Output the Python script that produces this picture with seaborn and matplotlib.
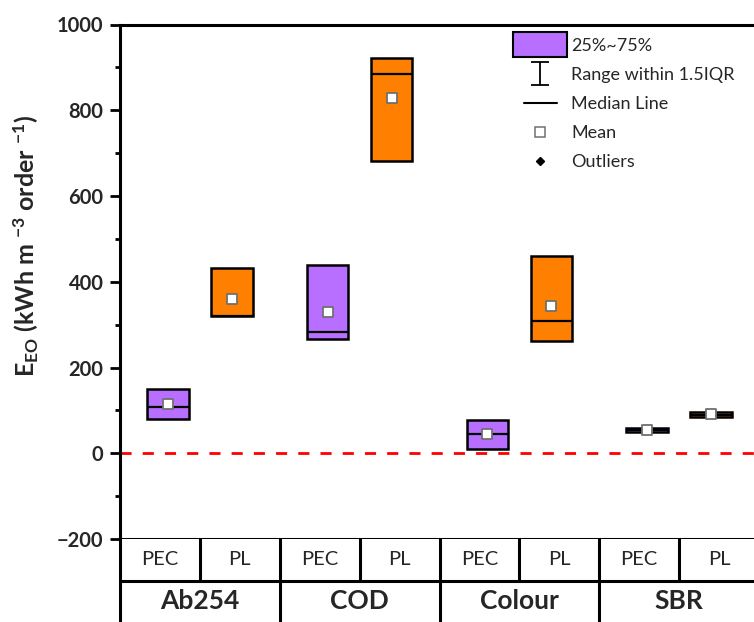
import numpy as np
import matplotlib
matplotlib.use("Agg")
import matplotlib.pyplot as plt
import seaborn as sns
from matplotlib.lines import Line2D
from matplotlib.patches import Patch, Rectangle
from matplotlib.legend_handler import HandlerPatch, HandlerErrorbar
from matplotlib.ticker import MultipleLocator

# data (kWh m-3 order-1)
groups = ["Ab254", "COD", "Colour", "SBR"]
methods = ["PEC", "PL"]
q1 = [79, 319, 266, 681, 11, 262, 50, 84]
median = [108, 319, 282, 884, 44, 308, 54, 90]
q3 = [149, 432, 438, 922, 77, 460, 58, 97]
means = [114, 359, 329, 829, 44, 344, 54, 92]
# whiskers sit on the box edges (no visible whiskers)
whisker_lo = q1
whisker_hi = q3

purple = "#B86EFF"
orange = "#FF8000"

sns.set_theme(style="ticks")
plt.rcParams["font.family"] = ["Lato", "DejaVu Sans"]
plt.rcParams["mathtext.fontset"] = "custom"
plt.rcParams["mathtext.rm"] = "Lato:bold"
plt.rcParams["mathtext.bf"] = "Lato:bold"
plt.rcParams["mathtext.it"] = "Lato:bold:italic"
plt.rcParams["mathtext.default"] = "bf"

fig = plt.figure(figsize=(7.54, 6.22), dpi=100)
W, H = 754, 622
ax = fig.add_axes([120 / W, (H - 539) / H, 639 / W, (539 - 24.5) / H])

# box positions: grouped around each group centre
n_groups = len(groups)
centres = 2 * np.arange(n_groups) + 1.0
positions = np.ravel(np.column_stack([centres - 0.4, centres + 0.4]))
colors = [purple, orange] * n_groups

stats = []
for i in range(len(q1)):
    stats.append(dict(q1=q1[i], med=median[i], q3=q3[i],
                      whislo=whisker_lo[i], whishi=whisker_hi[i],
                      fliers=[], mean=means[i]))

bp = ax.bxp(stats, positions=positions, widths=0.52, patch_artist=True,
            showcaps=False, showfliers=False, manage_ticks=False,
            boxprops=dict(edgecolor="black", linewidth=1.8),
            medianprops=dict(color="black", linewidth=1.6),
            whiskerprops=dict(color="black", linewidth=1.5))
for patch, c in zip(bp["boxes"], colors):
    patch.set_facecolor(c)

sns.scatterplot(x=positions, y=means, marker="s", s=60, color="white",
                edgecolor="#707070", linewidth=1.3, zorder=5, ax=ax,
                legend=False)

ax.axhline(0, color="red", linewidth=2, dashes=(4, 4), zorder=1)

ax.set_xlim(0, 8)
ax.set_ylim(-200, 1000)
ax.yaxis.set_major_locator(MultipleLocator(200))
ax.yaxis.set_minor_locator(MultipleLocator(100))
ax.set_xticks([])
ax.tick_params(axis="y", which="major", direction="out", length=7, width=2,
               pad=5, labelsize=14.5, color="black")
ax.tick_params(axis="y", which="minor", direction="out", length=3.5,
               width=2, color="black")
for lab in ax.get_yticklabels():
    lab.set_fontweight("bold")
for side in ["left", "top", "bottom"]:
    ax.spines[side].set_linewidth(2.2)
    ax.spines[side].set_color("black")
ax.spines["right"].set_visible(False)

ax.set_ylabel(r"E$_{EO}$ (kWh m $^{-3}$ order $^{-1}$)", fontsize=18,
              fontweight="bold")
ax.yaxis.set_label_coords(-0.124, 0.57)

# legend
def tall_box(legend, orig_handle, xdescent, ydescent, width, height, fontsize):
    extra = 0.6 * fontsize
    h = 1.4 * fontsize
    return Rectangle((-xdescent - extra, -ydescent + height / 2 - h / 2),
                     width + 2 * extra, h)

box_handle = Patch(facecolor=purple, edgecolor="black", linewidth=1.5)
err_handle = ax.errorbar([np.nan], [np.nan], yerr=[1], fmt="none",
                         ecolor="black", elinewidth=1.3, capsize=6.5,
                         capthick=1.3)
med_handle = Line2D([], [], color="black", linewidth=1.5)
mean_handle = Line2D([], [], linestyle="none", marker="s", markersize=6.5,
                     markerfacecolor="white", markeredgecolor="#707070",
                     markeredgewidth=1.1)
out_handle = Line2D([], [], linestyle="none", marker="D", markersize=4.5,
                    color="black")
leg = ax.legend([box_handle, err_handle, med_handle, mean_handle, out_handle],
                ["25%~75%", "Range within 1.5IQR", "Median Line", "Mean",
                 "Outliers"],
                handler_map={box_handle: HandlerPatch(patch_func=tall_box),
                             err_handle: HandlerErrorbar(yerr_size=0.65)},
                loc="upper left", bbox_to_anchor=(524 / W, 1 - 38 / H),
                bbox_transform=fig.transFigure, frameon=False, fontsize=13,
                handlelength=1.8, handletextpad=0.8, labelspacing=0.72,
                borderpad=0, borderaxespad=0)

# category table under the axis
tax = fig.add_axes([120 / W, 0, 639 / W, (H - 539) / H])
tax.set_xlim(0, 8)
tax.set_ylim(0, 2)
tax.set_xticks([])
tax.set_yticks([])
for side in ["top", "right", "bottom"]:
    tax.spines[side].set_visible(False)
tax.spines["left"].set_linewidth(2.2)
tax.spines["left"].set_color("black")
tax.axhline(1, color="black", linewidth=2.2)
for x in range(1, 8):
    if x % 2 == 0:
        tax.axvline(x, color="black", linewidth=2.2)
    else:
        tax.axvline(x, ymin=0.5, ymax=1, color="black", linewidth=2.2)
for i in range(n_groups):
    for j, m in enumerate(methods):
        tax.text(2 * i + j + 0.5, 1.5, m, ha="center", va="center",
                 fontsize=14.5)
    tax.text(2 * i + 1, 0.5, groups[i], ha="center", va="center",
             fontsize=19, fontweight="bold")

fig.savefig("out.png", dpi=100)
